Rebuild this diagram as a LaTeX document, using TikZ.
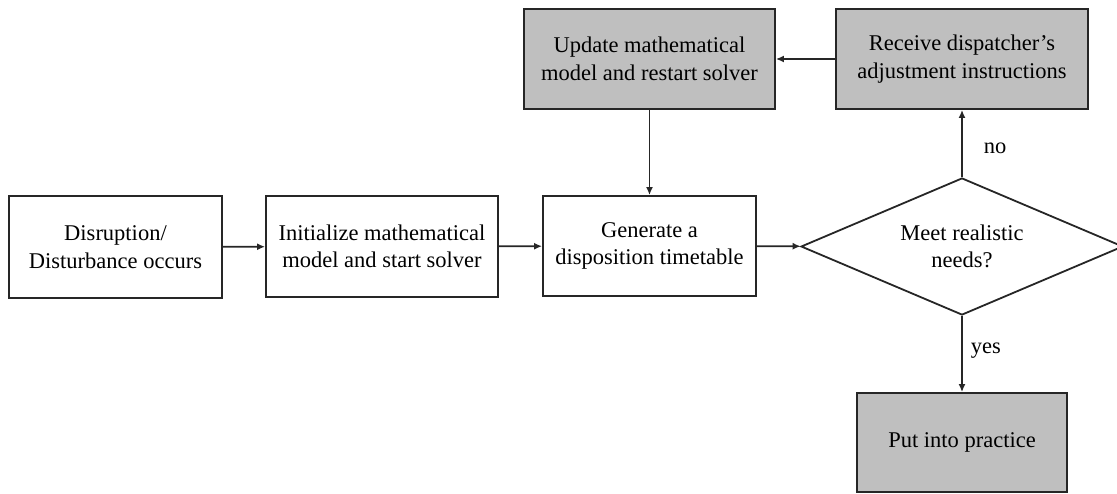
\documentclass[tikz,border=0pt]{standalone}
\usepackage{fontspec}
\setmainfont{Liberation Serif}
\usetikzlibrary{shapes.geometric,arrows.meta}
\tikzset{
  box/.style={draw=black!85, line width=1.8pt, align=center, inner sep=0pt,
    font=\fontsize{22.5}{27.5}\selectfont},
  graybox/.style={box, fill=black!25},
  dec/.style={box, shape=diamond, aspect=2.35, minimum width=322pt, minimum height=137pt},
  arr/.style={draw=black!85, line width=1.8pt, -{Latex[length=8pt,width=7pt]}},
  lbl/.style={font=\fontsize{22.5}{26}\selectfont, inner sep=0pt}
}
\begin{document}
\begin{tikzpicture}[x=1pt,y=-1pt]
\useasboundingbox (0,0) rectangle (1117,493);
\node[box, minimum width=213pt, minimum height=102pt] (dis) at (115.5,247) {Disruption/\\Disturbance occurs};
\node[box, minimum width=232pt, minimum height=101pt] (ini) at (382,246.5) {Initialize mathematical\\model and start solver};
\node[box, minimum width=213pt, minimum height=100pt] (gen) at (649.5,246) {Generate a\\disposition timetable};
\node[dec] (meet) at (962,246.5) {Meet realistic\\needs?};
\node[graybox, minimum width=251pt, minimum height=100pt] (upd) at (649.5,59) {Update mathematical\\model and restart solver};
\node[graybox, minimum width=252pt, minimum height=100pt] (rec) at (962,59) {Receive dispatcher's\\adjustment instructions};
\node[graybox, minimum width=210pt, minimum height=99pt] (put) at (962,442.5) {Put into practice};
\draw[arr] (dis) -- (ini);
\draw[arr] (ini) -- (gen);
\draw[arr] (gen) -- (meet);
\draw[arr] (upd) -- (gen);
\draw[arr] (rec) -- (upd);
\draw[arr] (meet) -- node[lbl, anchor=west, xshift=21pt, pos=0.43] (no) {no} (rec);
\draw[arr] (meet) -- node[lbl, anchor=west, xshift=8pt, pos=0.46] (yes) {yes} (put);
\end{tikzpicture}
\end{document}
